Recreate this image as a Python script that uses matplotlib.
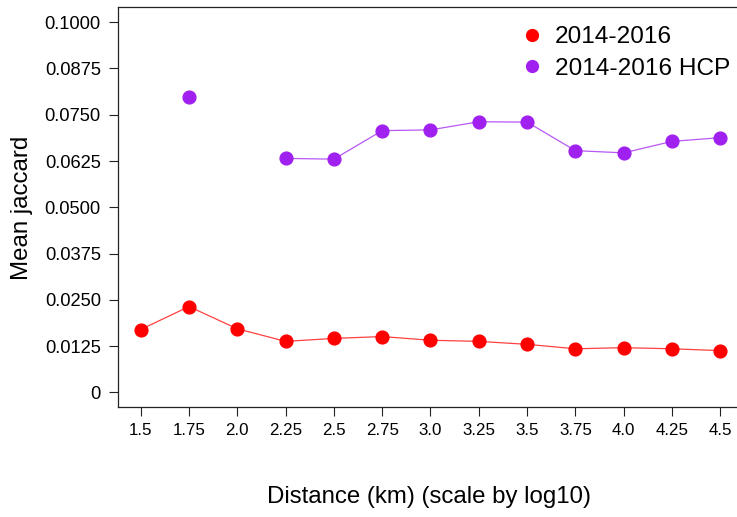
import numpy as np
import matplotlib
matplotlib.use("Agg")
import matplotlib.pyplot as plt
from matplotlib.lines import Line2D

plt.rcParams['font.family'] = ['Liberation Sans', 'DejaVu Sans']

distance = [1.5, 1.75, 2.0, 2.25, 2.5, 2.75, 3.0, 3.25, 3.5, 3.75, 4.0, 4.25, 4.5]
x_labels = ["1.5", "1.75", "2.0", "2.25", "2.5", "2.75", "3.0", "3.25", "3.5", "3.75", "4.0", "4.25", "4.5"]
jac_2014_2016 = [0.0170, 0.0232, 0.0172, 0.0138, 0.0146, 0.0151, 0.0141, 0.0138, 0.0130, 0.0118, 0.0121, 0.0118, 0.0113]
jac_2014_2016_hcp = [np.nan, 0.0797, np.nan, 0.0632, 0.0630, 0.0707, 0.0709, 0.0731, 0.0730, 0.0653, 0.0647, 0.0678, 0.0688]
y_ticks = [0, 0.0125, 0.025, 0.0375, 0.05, 0.0625, 0.075, 0.0875, 0.1]
y_labels = ["0", "0.0125", "0.0250", "0.0375", "0.0500", "0.0625", "0.0750", "0.0875", "0.1000"]
series_names = ["2014-2016", "2014-2016 HCP"]
colors = ["#FF0000", "#A020F0"]

W, H = 737, 517
fig = plt.figure(figsize=(W / 100, H / 100), dpi=100)
left, right, top, bottom = 117.5, 743.5, 7.3, 407.3
ax = fig.add_axes([left / W, 1 - bottom / H, (right - left) / W, (bottom - top) / H])

for vals, col in zip([jac_2014_2016, jac_2014_2016_hcp], colors):
    ax.plot(distance, vals, color=col, lw=0.9, alpha=0.75, zorder=2)
    ax.plot(distance, vals, color=col, lw=0, marker='o', markersize=9.2, zorder=3)

ax.set_xlim(1.38, 4.62)
ax.set_ylim(-0.004, 0.104)
ax.set_xticks(distance)
ax.set_xticklabels(x_labels)
ax.set_yticks(y_ticks)
ax.set_yticklabels(y_labels)
ax.tick_params(axis='both', direction='out', length=6.5, width=0.8, pad=5, colors='#222222', labelcolor='black')
ax.tick_params(axis='x', labelsize=12.2)
ax.tick_params(axis='y', labelsize=13.2, pad=5.5)
for s in ax.spines.values():
    s.set_color('#222222')
    s.set_linewidth(0.9)

fig.text(429 / W, 1 - 497 / H, "Distance (km) (scale by log10)", ha='center', va='center', fontsize=17.3)
fig.text(22 / W, 1 - 208 / H, "Mean jaccard", ha='center', va='center', rotation=90, fontsize=17.3)

handles = [Line2D([], [], color=c, lw=0, marker='o', markersize=8.5) for c in colors]
leg = fig.legend(handles, series_names, loc='upper left', bbox_to_anchor=(520 / W, 1 - 26 / H),
                 frameon=False, fontsize=17.6, handlelength=1.0, handletextpad=0.42,
                 borderpad=0, borderaxespad=0, labelspacing=0.38)

fig.savefig("out.png", dpi=100)
